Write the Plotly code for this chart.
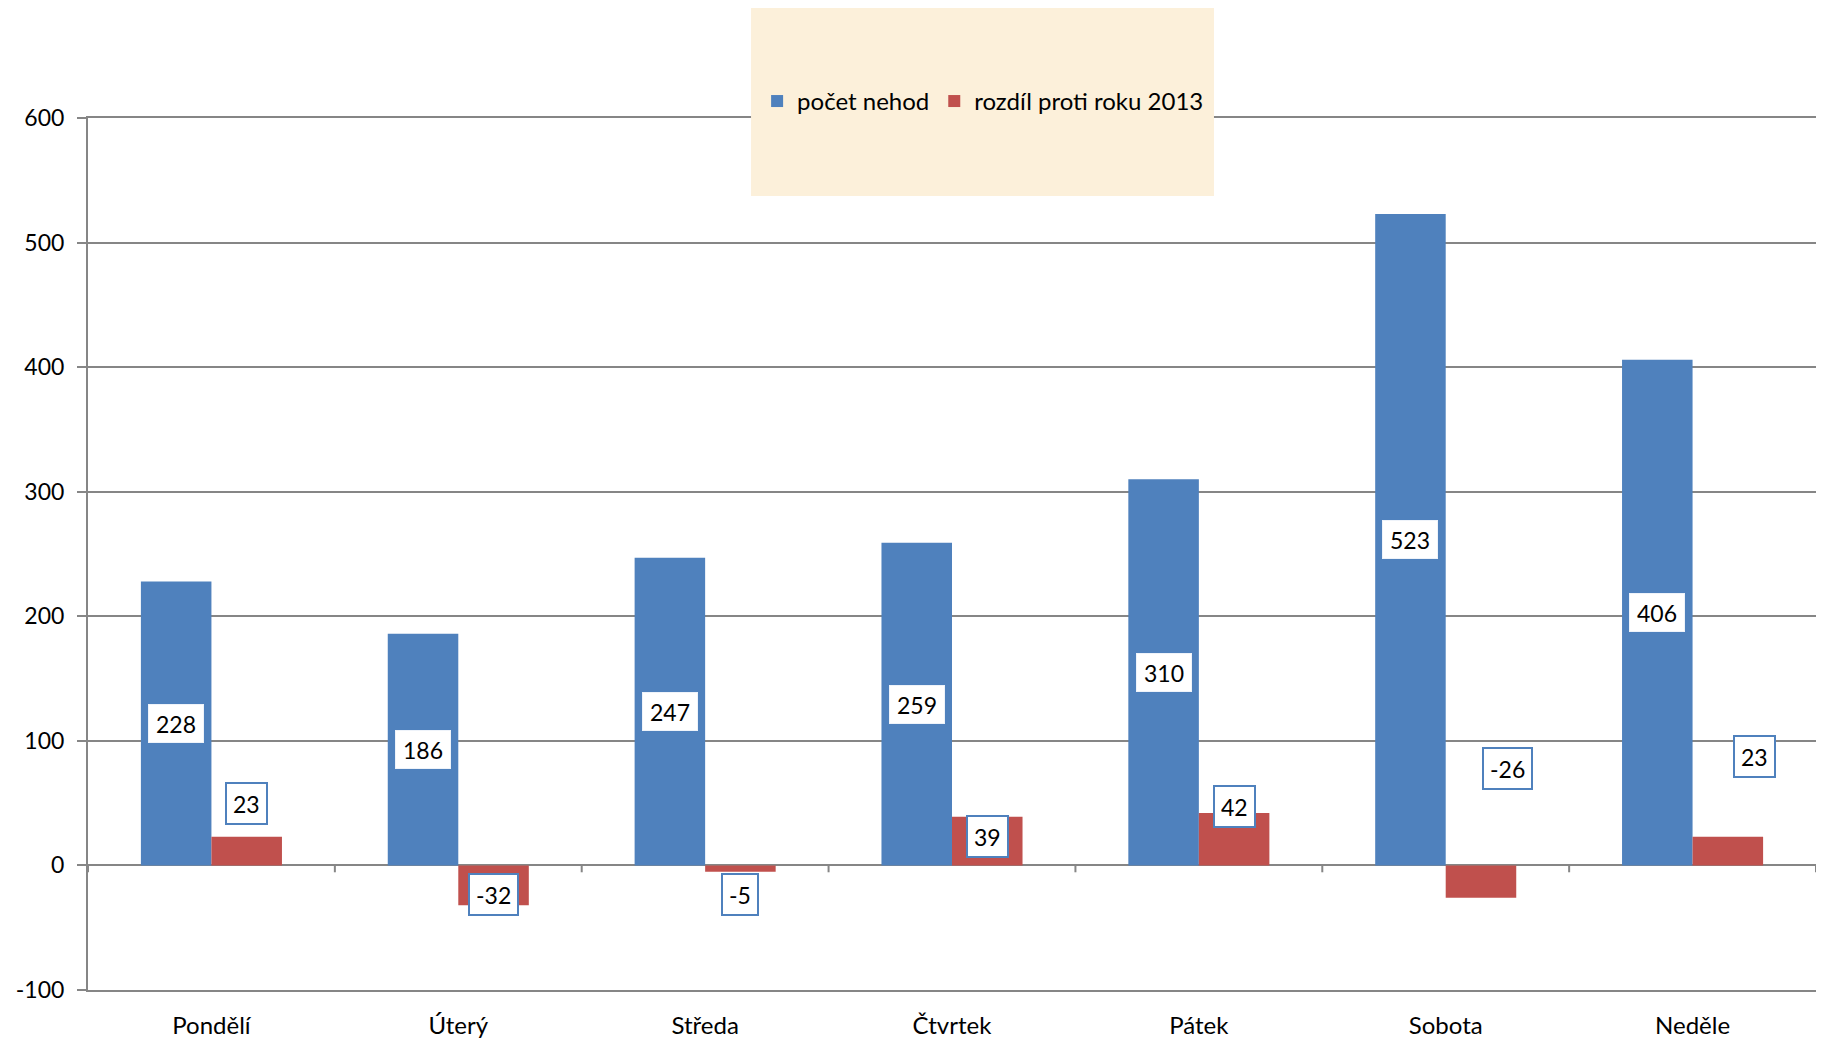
import plotly.graph_objects as go

days = ["Pondělí", "Úterý", "Středa", "Čtvrtek", "Pátek", "Sobota", "Neděle"]
pocet_nehod = [228, 186, 247, 259, 310, 523, 406]
rozdil_2013 = [23, -32, -5, 39, 42, -26, 23]
y_ticks = [-100, 0, 100, 200, 300, 400, 500, 600]
y_tick_labels = ["-100", "0", "100", "200", "300", "400", "500", "600"]

# manual placement of the difference labels (as in the reference)
red_label_y = [50, -23.6, -23.6, 23.5, 47.5, 77.5, 87.7]
red_label_xshift = [0, 0, 0, 0, 0, 27, 27]

BLUE = "#4F81BD"
RED = "#C0504D"
GRID = "#868686"
FONT = "Lato"
NUM_SIZE = 23
TXT_SIZE = 24

bargap = 0.4286
bw = (1 - bargap) / 2

fig = go.Figure()
fig.add_trace(go.Bar(x=list(range(len(days))), y=pocet_nehod, name="počet nehod",
                     marker=dict(color=BLUE, line=dict(width=0))))
fig.add_trace(go.Bar(x=list(range(len(days))), y=rozdil_2013, name="rozdíl proti roku 2013",
                     marker=dict(color=RED, line=dict(width=0))))

ann = []
for i, v in enumerate(pocet_nehod):
    ann.append(dict(x=i - bw / 2, y=v / 2, xref="x", yref="y", text=str(v), showarrow=False,
                    font=dict(family=FONT, size=NUM_SIZE, color="black"), bgcolor="white",
                    bordercolor="#EEF3FA", borderwidth=1, borderpad=4, width=46, height=29))
for i, v in enumerate(rozdil_2013):
    ann.append(dict(x=i + bw / 2, y=red_label_y[i], xref="x", yref="y", text=str(v), showarrow=False,
                    xshift=red_label_xshift[i],
                    font=dict(family=FONT, size=NUM_SIZE, color="black"), bgcolor="white",
                    bordercolor=BLUE, borderwidth=2, borderpad=6, height=27))

shapes = []
# tick marks on the category axis at the zero line
for k in range(len(days) + 1):
    shapes.append(dict(type="line", xref="x", yref="y", x0=k - 0.5, x1=k - 0.5, y0=0, y1=-5.5,
                       line=dict(color=GRID, width=2), layer="above"))
# legend background
shapes.append(dict(type="rect", xref="paper", yref="paper", x0=0.3837, x1=0.6516, y0=0.9106, y1=1.1261,
                   fillcolor="#FCF0DA", line=dict(width=0), layer="above"))

fig.update_layout(
    width=1829, height=1042,
    margin=dict(l=88, r=13, t=118, b=52, autoexpand=False),
    paper_bgcolor="white", plot_bgcolor="white",
    barmode="group", bargap=bargap, bargroupgap=0,
    font=dict(family=FONT, size=TXT_SIZE, color="black"),
    showlegend=True,
    legend=dict(orientation="h", x=0.518, y=1.019, xanchor="center", yanchor="middle",
                bgcolor="rgba(0,0,0,0)", font=dict(family=FONT, size=TXT_SIZE, color="black"),
                itemsizing="constant", tracegroupgap=0),
    xaxis=dict(range=[-0.5, len(days) - 0.5], tickmode="array", tickvals=list(range(len(days))),
               ticktext=days, showgrid=False, zeroline=False, showline=True, mirror=True,
               linecolor=GRID, linewidth=2, ticks="", automargin=False,
               ticklabelstandoff=13, tickfont=dict(family=FONT, size=TXT_SIZE, color="black")),
    yaxis=dict(range=[-100, 600], tickmode="array", tickvals=y_ticks, ticktext=y_tick_labels,
               showgrid=True, gridcolor=GRID, gridwidth=2, zeroline=True, zerolinecolor=GRID,
               zerolinewidth=2, showline=True, linecolor=GRID, linewidth=2, ticks="outside",
               ticklen=9, tickcolor=GRID, tickwidth=2, ticklabelstandoff=8, automargin=False,
               tickfont=dict(family=FONT, size=NUM_SIZE, color="black")),
    annotations=ann, shapes=shapes,
)

fig.write_html("out.html", config={"displayModeBar": False},
               post_script="document.body.style.margin='0';document.body.style.overflow='hidden';")
